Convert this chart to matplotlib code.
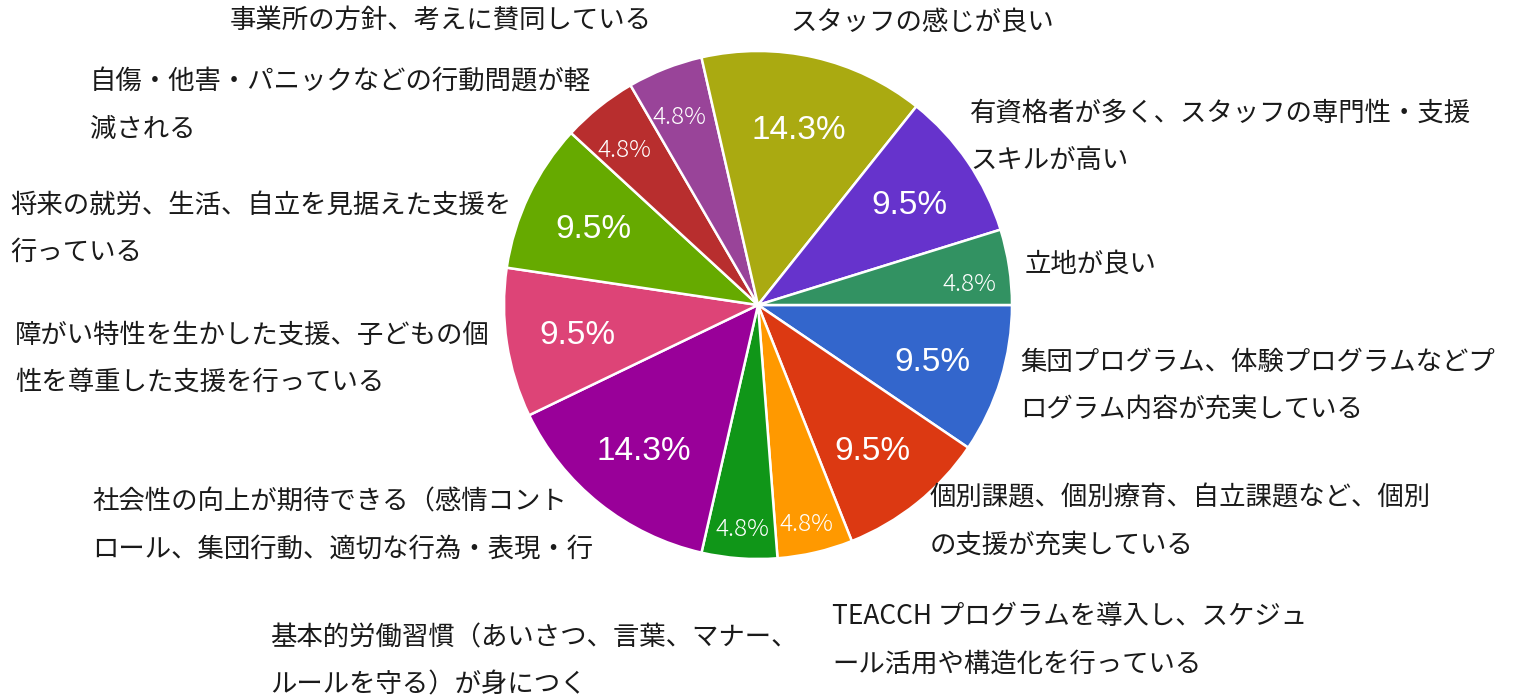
import matplotlib
matplotlib.use("Agg")
import matplotlib.pyplot as plt
import numpy as np

# Survey answers, in drawing order (clockwise from 3 o'clock)
categories = [
    "集団プログラム、体験プログラムなどプ\nログラム内容が充実している",
    "個別課題、個別療育、自立課題など、個別\nの支援が充実している",
    "TEACCH プログラムを導入し、スケジュ\nール活用や構造化を行っている",
    "基本的労働習慣（あいさつ、言葉、マナー、\nルールを守る）が身につく",
    "社会性の向上が期待できる（感情コント\nロール、集団行動、適切な行為・表現・行",
    "障がい特性を生かした支援、子どもの個\n性を尊重した支援を行っている",
    "将来の就労、生活、自立を見据えた支援を\n行っている",
    "自傷・他害・パニックなどの行動問題が軽\n減される",
    "事業所の方針、考えに賛同している",
    "スタッフの感じが良い",
    "有資格者が多く、スタッフの専門性・支援\nスキルが高い",
    "立地が良い",
]
percentages = [9.5, 9.5, 4.8, 4.8, 14.3, 9.5, 9.5, 4.8, 4.8, 14.3, 9.5, 4.8]
colors = ["#3366cc", "#dc3912", "#ff9900", "#109618", "#990099", "#dd4477",
          "#66aa00", "#b82e2e", "#994499", "#aaaa11", "#6633cc", "#329262"]

# Layout (pixels, origin top-left): label anchors and pie geometry
label_anchor = [(1020, 362), (930, 498), (832, 617), (270, 638), (92, 502),
                (15, 335), (10, 205), (90, 82), (230, 20), (790, 22),
                (970, 113), (1025, 264)]
W, H = 1525, 699
pie_center = (758, H - 305)
pie_radius = 254
line_gap = 47

fig = plt.figure(figsize=(W / 100, H / 100), dpi=100)
ax = fig.add_axes([0, 0, 1, 1])

wedges, _ = ax.pie(percentages, colors=colors, startangle=0, counterclock=False,
                   center=pie_center, radius=pie_radius, frame=True,
                   wedgeprops=dict(edgecolor="white", linewidth=1.8))
ax.set_xlim(0, W)
ax.set_ylim(0, H)
ax.set_aspect("equal", adjustable="datalim")
ax.axis("off")

# Percentage labels inside the slices (baseline placed below the anchor so
# the digits sit centred on it)
for w, p in zip(wedges, percentages):
    mid = np.deg2rad((w.theta1 + w.theta2) / 2)
    big = p >= 9
    dist = 0.72 if big else 0.84
    x = pie_center[0] + pie_radius * dist * np.cos(mid)
    y = pie_center[1] + pie_radius * dist * np.sin(mid)
    if big:
        ax.text(x, y - 12, f"{p:.1f}%", color="white", ha="center",
                va="baseline", fontsize=24,
                family=["Liberation Sans", "DejaVu Sans"])
    else:
        ax.text(x, y - 18, f"{p:.1f}%", color="white", ha="center",
                va="baseline", fontsize=17.5, weight="light",
                family=["Noto Sans CJK JP", "DejaVu Sans"])

# Category labels around the pie
for text, (lx, ly) in zip(categories, label_anchor):
    for i, line in enumerate(text.split("\n")):
        ax.text(lx, H - ly - i * line_gap, line, color="#1a1a1a",
                ha="left", va="center", fontsize=19,
                family=["Noto Sans CJK JP", "DejaVu Sans"])

fig.savefig("out.png", dpi=100, facecolor="white")
